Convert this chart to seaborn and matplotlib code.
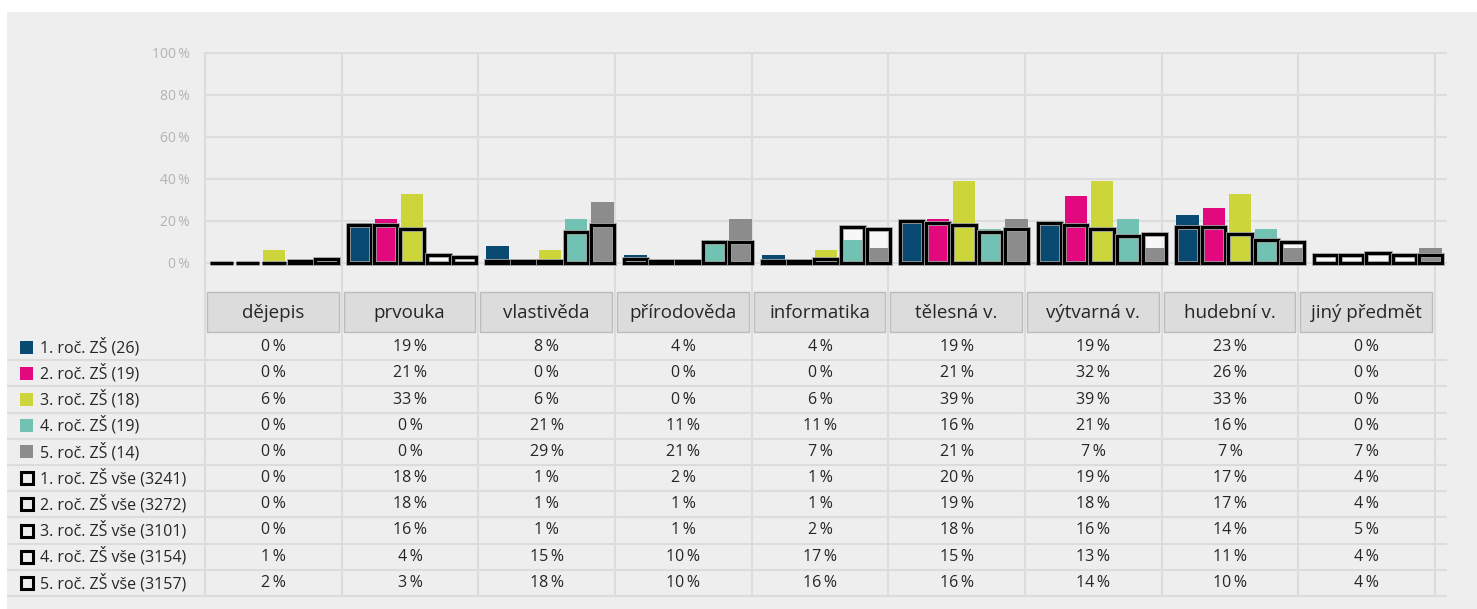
import numpy as np
import pandas as pd
import matplotlib
matplotlib.use("Agg")
import matplotlib.pyplot as plt
import matplotlib.patheffects as pe
from matplotlib.patches import Rectangle
import seaborn as sns

# ---------------- data ----------------
subjects = ["dějepis", "prvouka", "vlastivěda", "přírodověda", "informatika",
            "tělesná v.", "výtvarná v.", "hudební v.", "jiný předmět"]
groups = ["1. roč. ZŠ (26)", "2. roč. ZŠ (19)", "3. roč. ZŠ (18)",
          "4. roč. ZŠ (19)", "5. roč. ZŠ (14)"]
groups_all = ["1. roč. ZŠ vše (3241)", "2. roč. ZŠ vše (3272)", "3. roč. ZŠ vše (3101)",
              "4. roč. ZŠ vše (3154)", "5. roč. ZŠ vše (3157)"]
g1 = [0, 19, 8, 4, 4, 19, 19, 23, 0]
g2 = [0, 21, 0, 0, 0, 21, 32, 26, 0]
g3 = [6, 33, 6, 0, 6, 39, 39, 33, 0]
g4 = [0, 0, 21, 11, 11, 16, 21, 16, 0]
g5 = [0, 0, 29, 21, 7, 21, 7, 7, 7]
a1 = [0, 18, 1, 2, 1, 20, 19, 17, 4]
a2 = [0, 18, 1, 1, 1, 19, 18, 17, 4]
a3 = [0, 16, 1, 1, 2, 18, 16, 14, 5]
a4 = [1, 4, 15, 10, 17, 15, 13, 11, 4]
a5 = [2, 3, 18, 10, 16, 16, 14, 10, 4]
yticks = [0, 20, 40, 60, 80, 100]

colors = ["#084a72", "#e2097f", "#ccd63b", "#72c2b4", "#8c8c8c"]

grade_vals = [g1, g2, g3, g4, g5]
all_vals = [a1, a2, a3, a4, a5]

df_g = pd.DataFrame([(s, groups[k], grade_vals[k][i])
                     for k in range(5) for i, s in enumerate(subjects)],
                    columns=["subject", "group", "value"])
df_a = pd.DataFrame([(s, groups_all[k], all_vals[k][i])
                     for k in range(5) for i, s in enumerate(subjects)],
                    columns=["subject", "group", "value"])

# ---------------- layout (pixels) ----------------
W, H = 1477, 609
BG = "#eeeeee"
LINE = "#dcdcdc"
X0, X1 = 205, 1435          # category columns
XG = 1447                   # right end of grid lines
colw = (X1 - X0) / len(subjects)
Y100, Y0 = 53, 263          # 100 % and 0 % lines
AX_TOP, AX_BOT = 52, 290
ppu = (Y0 - Y100) / 100.0
SP = "\u2009"

sns.set_theme(style="white")
plt.rcParams["font.family"] = ["Open Sans", "DejaVu Sans"]

fig = plt.figure(figsize=(W / 100, H / 100), dpi=100)
fig.patch.set_facecolor("white")

# background layer in pixel coords
bg = fig.add_axes([0, 0, 1, 1])
bg.set_xlim(0, W)
bg.set_ylim(H, 0)
bg.axis("off")
bg.add_patch(Rectangle((7, 12), W - 7, H - 12, facecolor=BG, edgecolor="none", zorder=0))

# main bar axes
ax = fig.add_axes([X0 / W, 1 - AX_BOT / H, (XG - X0) / W, (AX_BOT - AX_TOP) / H])
ax.set_facecolor("none")
ax.set_xlim(-0.5, len(subjects) - 0.5 + (XG - X1) / colw)
ax.set_ylim(-(AX_BOT - Y0) / ppu, 100 + (Y100 - AX_TOP) / ppu)
for t in yticks:
    ax.axhline(t, color=LINE, lw=1.5, zorder=0)

# white semi-transparent underlay of the "vše" bars
sns.barplot(data=df_a, x="subject", y="value", hue="group", palette=["white"] * 5,
            width=0.95, gap=0.12, saturation=1, legend=False, ax=ax,
            alpha=0.55, linewidth=0, zorder=1)
# coloured grade bars
sns.barplot(data=df_g, x="subject", y="value", hue="group", palette=colors,
            width=0.95, gap=0.15, saturation=1, legend=False, ax=ax,
            linewidth=0, zorder=2)
# black outline bars
sns.barplot(data=df_a, x="subject", y="value", hue="group", palette=["black"] * 5,
            width=0.95, gap=0.12, saturation=1, legend=False, ax=ax,
            fill=False, linewidth=2.2, zorder=3)
for p in ax.patches[-45:]:
    p.set_path_effects([pe.Stroke(linewidth=3.4, foreground="#a0a0a0"), pe.Normal()])
    p.set_clip_on(False)
    p.set_joinstyle("miter")

ax.set_yticks(yticks)
ax.set_yticklabels([f"{t}{SP}%" for t in yticks], color="#b3b3b3", fontsize=10)
ax.tick_params(axis="y", length=0, pad=11)
ax.set_xticks([])
ax.set_xlabel("")
ax.set_ylabel("")
for s in ax.spines.values():
    s.set_visible(False)

# ---------------- table ----------------
# vertical column separators
for i in range(len(subjects) + 1):
    x = X0 + i * colw
    bg.plot([x, x], [AX_TOP, 597], color=LINE, lw=1.5, zorder=1, solid_capstyle="butt")

# header cells
for i, s in enumerate(subjects):
    xl = X0 + i * colw + 2
    bg.add_patch(Rectangle((xl, 292), colw - 5, 40, facecolor="#dcdcdc",
                           edgecolor="#bcbcbc", lw=1.0, zorder=2))
    bg.text(xl + (colw - 5) / 2, 313, s, ha="center", va="center",
            fontsize=13.5, color="#262626", zorder=3)

row_h = 26.2
row_top = 334
rows = list(zip(groups, grade_vals)) + list(zip(groups_all, all_vals))
for r, (label, vals) in enumerate(rows):
    yc = row_top + r * row_h + row_h / 2
    # separator below row
    ys = row_top + (r + 1) * row_h
    bg.plot([7, XG], [ys, ys], color=LINE, lw=1.5, zorder=1, solid_capstyle="butt")
    # legend marker
    if r < 5:
        bg.add_patch(Rectangle((20, yc - 6.5), 13, 13, facecolor=colors[r],
                               edgecolor="none", zorder=3))
    else:
        bg.add_patch(Rectangle((21, yc - 6), 12, 12, facecolor="none",
                               edgecolor="black", lw=2.2, zorder=3))
    bg.text(40, yc, label, ha="left", va="center", fontsize=11.5,
            color="#262626", zorder=3)
    for i, v in enumerate(vals):
        bg.text(X0 + (i + 0.5) * colw, yc, f"{v}{SP}%", ha="center", va="center",
                fontsize=11.5, color="#262626", zorder=3)

fig.savefig("out.png", dpi=100, facecolor="white")
